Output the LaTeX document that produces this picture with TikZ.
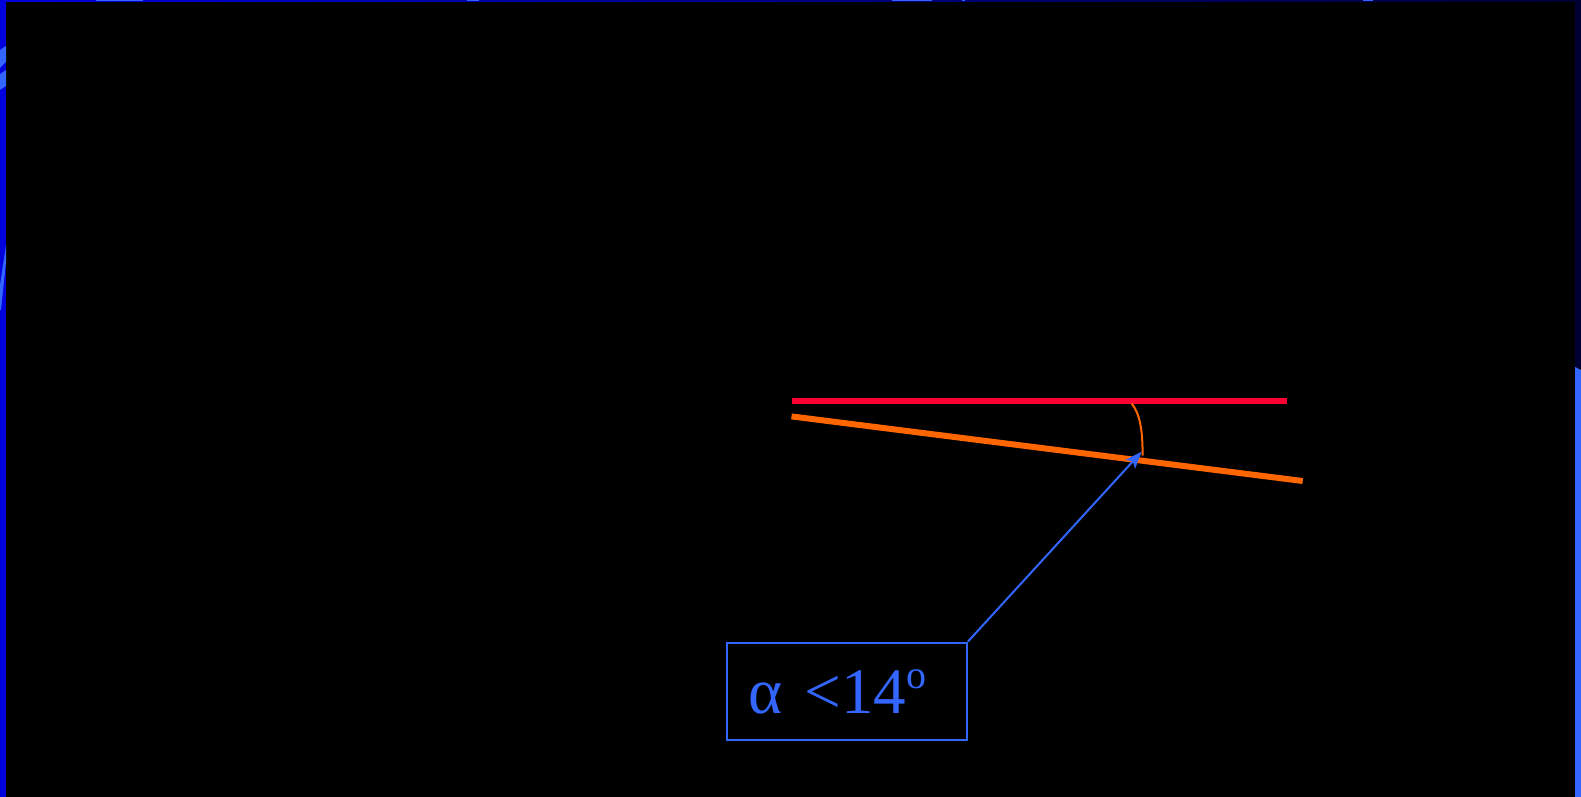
\documentclass[tikz,border=0pt]{standalone}
\usepackage{fontspec}
\setmainfont{Liberation Serif}
\usetikzlibrary{arrows.meta}
\definecolor{calloutblue}{HTML}{3366FF}
\definecolor{edgeblue}{HTML}{0000DD}
\definecolor{edgenavy}{HTML}{000033}
\definecolor{refred}{HTML}{FF0033}
\definecolor{slopeorange}{HTML}{FF6600}
\newcommand{\supo}{\raisebox{25pt}{\fontsize{40}{40}\selectfont o}}
\begin{document}
\begin{tikzpicture}[x=1pt, y=-1pt, >={Stealth[length=17pt, width=13pt, inset=4pt]},
  refline/.style={line width=6pt, refred},
  slopeline/.style={line width=6pt, slopeorange},
  anglearc/.style={line width=2pt, slopeorange},
  callout/.style={draw=calloutblue, line width=1.8pt, text=calloutblue,
    anchor=north west, minimum width=240pt, minimum height=97.6pt,
    text width=196pt, inner xsep=22pt, align=left,
    font=\fontsize{65}{78}\selectfont}]
  % Background and frame strips
  \fill[black] (0,0) rectangle (1581,797);
  \useasboundingbox (0,0) rectangle (1581,797);
  \fill[edgeblue] (0,0) rectangle (6,797);
  \fill[calloutblue] (0,50) -- (6,46) -- (6,62) -- (0,68) -- cycle;
  \fill[calloutblue] (0,74) -- (6,70) -- (6,86) -- (0,90) -- cycle;
  \fill[calloutblue] (6,245) -- (6,262) -- (1,310) -- (0,310) -- (0,285) -- cycle;
  \shade[left color=edgeblue, right color=edgenavy] (0,0) rectangle (1581,1.5);
  \foreach \a/\b in {96/143, 467/479, 892/932, 962/965, 1363/1373}
    \fill[calloutblue] (\a,0) rectangle (\b,1.5);
  \fill[edgenavy] (1575,0) rectangle (1581,368);
  \fill[calloutblue] (1575,367) -- (1581,370) -- (1581,797) -- (1575,797) -- cycle;

  % Horizontal and sloped lines
  \coordinate (RA) at (791.5,401.3);
  \coordinate (RB) at (1286.6,401.3);
  \coordinate (SA) at (791.5,416.4);
  \coordinate (SB) at (1302.7,481);
  \draw[refline] (RA) -- (RB);
  \draw[slopeline] (SA) -- (SB);

  % Angle mark
  \coordinate (arcA) at (1131.7,403.5);
  \coordinate (arcB) at (1142.6,455.5);
  \draw[anglearc] (arcA) .. controls (1140,414) and (1142.6,430) .. (arcB);

  % Callout
  \node[callout] (alpha) at (726,641.7) {α <14\supo};
  \coordinate (tip) at (1141.7,451.7);
  \draw[->, calloutblue, line width=2pt] (alpha.north east) -- (tip);
\end{tikzpicture}
\end{document}
